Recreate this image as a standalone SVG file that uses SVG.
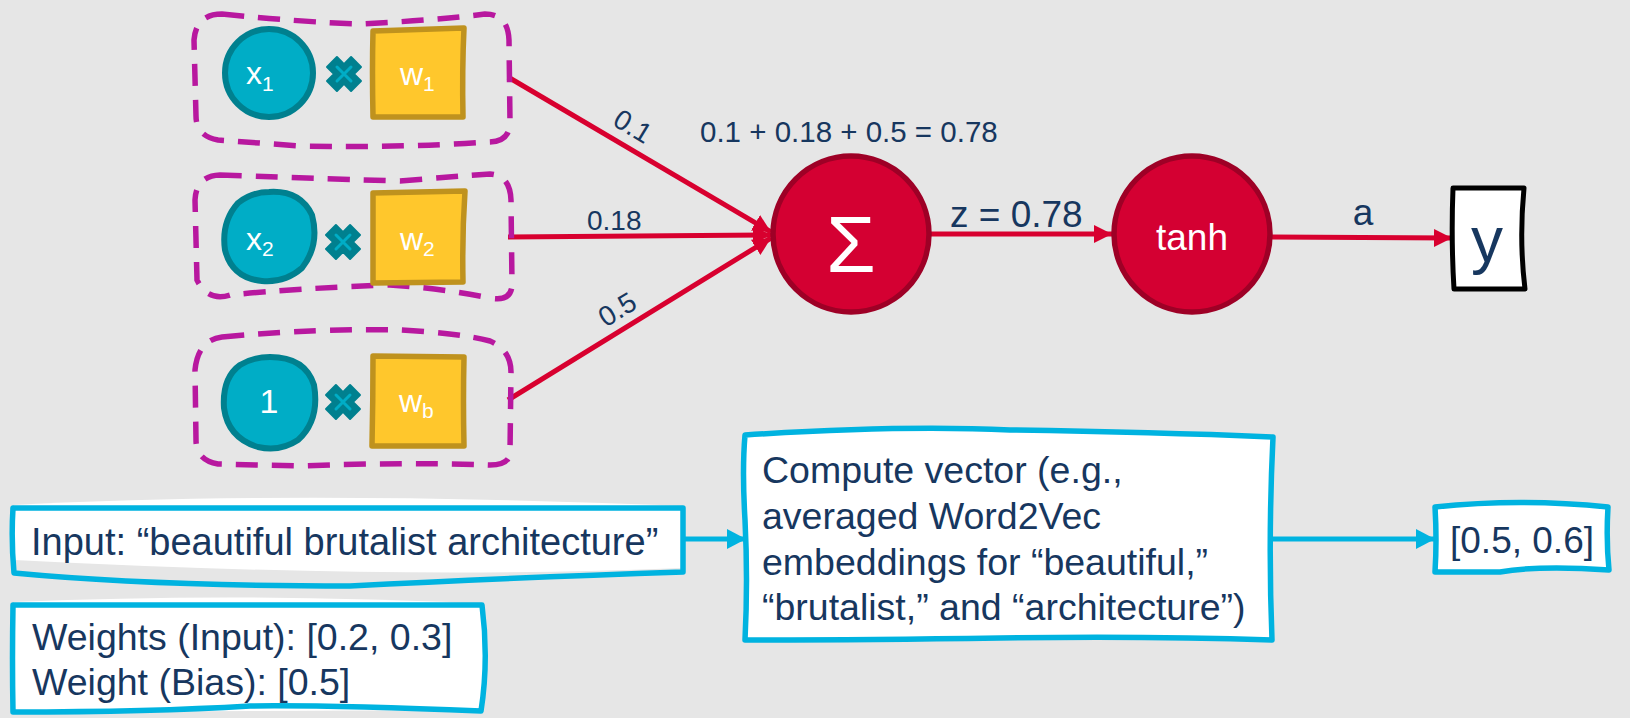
<svg xmlns="http://www.w3.org/2000/svg" width="1630" height="718" viewBox="0 0 1630 718">
<style>
text{font-family:"Liberation Sans",Arial,sans-serif}
.lbl{fill:#17375f}
.wt{fill:#ffffff}
.dash{fill:none;stroke:#b8189f;stroke-width:5.5;stroke-dasharray:22 14;stroke-linecap:butt}
.inp{fill:#00adc6;stroke:#00808f;stroke-width:6}
.wsq{fill:#ffc72c;stroke:#bf921e;stroke-width:5.5;stroke-linejoin:round}
.neu{fill:#d40032;stroke:#9e0026;stroke-width:5.5}
.red{fill:none;stroke:#d8002f;stroke-width:5}
.blu{fill:none;stroke:#00b3e0;stroke-width:5}
.bbox{fill:#ffffff;stroke:#00b3e0;stroke-width:5.5;stroke-linejoin:round}
.wfill{fill:#ffffff}
</style>
<defs>
<marker id="ar" markerUnits="userSpaceOnUse" markerWidth="20" markerHeight="20" refX="18" refY="10" orient="auto">
<path d="M0,1 L18,10 L0,19 z" fill="#d8002f"/>
</marker>
<marker id="ab" markerUnits="userSpaceOnUse" markerWidth="20" markerHeight="22" refX="19" refY="11" orient="auto">
<path d="M0,1 L19,11 L0,21 z" fill="#00b3e0"/>
</marker>
<g id="cross">
<path d="M-7,-17 L7,-17 L7,-7 L17,-7 L17,7 L7,7 L7,17 L-7,17 L-7,7 L-17,7 L-17,-7 L-7,-7 Z" transform="rotate(45)" fill="#00808f" stroke="#00808f" stroke-width="2" stroke-linejoin="round"/>
<path d="M-7,-7 L7,7 M-7,7 L7,-7" stroke="#00adc6" stroke-width="3" stroke-linecap="round"/>
</g>
</defs>
<rect width="1630" height="718" fill="#e6e6e6"/>

<g id="connectors">
<line class="red" x1="508" y1="77" x2="771" y2="232" marker-end="url(#ar)"/>
<line class="red" x1="508" y1="237" x2="771" y2="235" marker-end="url(#ar)"/>
<line class="red" x1="508" y1="400" x2="771" y2="238" marker-end="url(#ar)"/>
<line class="red" x1="930" y1="234" x2="1112" y2="234" marker-end="url(#ar)"/>
<line class="red" x1="1272" y1="237" x2="1452" y2="238" marker-end="url(#ar)"/>
<line class="blu" x1="683" y1="539" x2="746" y2="539" marker-end="url(#ab)"/>
<line class="blu" x1="1273" y1="539" x2="1435" y2="539" marker-end="url(#ab)"/>
<text class="lbl" font-size="28" text-anchor="middle" transform="translate(633,126) rotate(31)" dy="10">0.1</text>
<text class="lbl" font-size="28" x="587" y="230">0.18</text>
<text class="lbl" font-size="28" text-anchor="middle" transform="translate(617,309) rotate(-31.5)" dy="10">0.5</text>
<text class="lbl" font-size="29.5" x="700" y="142">0.1 + 0.18 + 0.5 = 0.78</text>
<text class="lbl" font-size="37" x="950" y="227">z = 0.78</text>
<text class="lbl" font-size="37" x="1363" y="225" text-anchor="middle">a</text>
</g>

<g id="pair1">
<path class="dash" d="M222,14 Q300,22 360,24 Q440,20 485,14 Q508,14 509,40 L510,122 Q510,142 488,142 Q400,148 300,146 L218,140 Q196,136 196,116 L194,40 Q196,14 222,14 Z"/>
<circle class="inp" cx="269" cy="73" r="44"/>
<text class="wt" font-size="32" x="246" y="84">x<tspan font-size="21" dy="7">1</tspan></text>
<use href="#cross" x="344" y="74"/>
<path class="wsq" d="M373,31 L464,28 Q462,70 463,117 L373,117 Q372,70 373,31 Z"/>
<text class="wt" font-size="32" x="400" y="85">w<tspan font-size="21" dy="6">1</tspan></text>
</g>

<g id="pair2">
<path class="dash" d="M220,175 Q300,178 400,181 Q460,176 490,174 Q510,175 511,200 L512,284 Q512,302 490,298 Q440,288 390,285 Q300,288 230,295 Q208,302 197,280 L195,200 Q196,176 220,175 Z"/>
<path class="inp" d="M269,192 Q300,190 312,215 Q320,245 302,268 Q285,283 262,281 Q232,278 225,250 Q221,222 238,203 Q252,192 269,192 Z"/>
<text class="wt" font-size="32" x="246" y="250">x<tspan font-size="21" dy="6">2</tspan></text>
<use href="#cross" x="343" y="242"/>
<path class="wsq" d="M373,193 L465,191 Q462,236 463,282 L373,283 Q373,238 373,193 Z"/>
<text class="wt" font-size="32" x="400" y="250">w<tspan font-size="21" dy="6">2</tspan></text>
</g>

<g id="pair3">
<path class="dash" d="M222,337 Q320,328 400,330 Q460,333 490,341 Q511,350 511,372 L510,452 Q510,465 490,465 Q400,462 300,466 L218,464 Q196,460 196,440 L195,370 Q198,340 222,337 Z"/>
<path class="inp" d="M270,357 Q305,357 314,385 Q320,420 298,440 Q280,452 258,447 Q228,438 224,408 Q222,378 240,365 Q253,357 270,357 Z"/>
<text class="wt" font-size="34" x="269" y="413" text-anchor="middle">1</text>
<use href="#cross" x="343" y="402"/>
<path class="wsq" d="M373,356 L464,357 Q463,400 464,446 L372,446 Q373,400 373,356 Z"/>
<text class="wt" font-size="32" x="399" y="412">w<tspan font-size="21" dy="6">b</tspan></text>
</g>

<g id="sum">
<circle class="neu" cx="851" cy="234" r="78"/>
<text class="wt" font-size="80" x="851" y="272" text-anchor="middle">Σ</text>
</g>

<g id="tanh">
<circle class="neu" cx="1192" cy="234" r="78"/>
<text class="wt" font-size="37" x="1192" y="250" text-anchor="middle">tanh</text>
</g>

<g id="output">
<path d="M1453,188 L1524,188 Q1519,240 1525,289 L1454,289 Q1451,240 1453,188 Z" fill="#ffffff" stroke="#000000" stroke-width="5" stroke-linejoin="round"/>
<text class="lbl" font-size="64" x="1487" y="262" text-anchor="middle">y</text>
</g>

<g id="input">
<path class="wfill" d="M14,505 Q300,490 683,506 L683,568 Q400,580 14,560 Z"/>
<path class="bbox" style="fill:none" d="M13,508 L683,508 L683,572 Q500,578 350,586 Q150,586 14,573 Q11,540 13,508 Z"/>
<text class="lbl" font-size="38" x="31" y="555">Input: “beautiful brutalist architecture”</text>
</g>

<g id="weights">
<path class="wfill" d="M14,602 Q250,592 483,604 Q488,660 482,710 L14,712 Z"/>
<path class="bbox" style="fill:none" d="M13,605 L482,605 Q489,660 481,711 Q330,705 250,706 Q150,712 13,712 Q12,660 13,605 Z"/>
<text class="lbl" font-size="37.5" x="32" y="650">Weights (Input): [0.2, 0.3]</text>
<text class="lbl" font-size="37.5" x="32" y="695">Weight (Bias): [0.5]</text>
</g>

<g id="compute">
<path class="bbox" d="M745,435 Q900,425 1010,430 Q1150,432 1273,437 Q1268,540 1272,640 Q1150,636 1000,638 Q860,640 745,640 Q748,580 745,520 Q742,470 745,435 Z"/>
<text class="lbl" font-size="37.5">
<tspan x="762" y="483">Compute vector (e.g.,</tspan>
<tspan x="762" y="529">averaged Word2Vec</tspan>
<tspan x="762" y="575">embeddings for “beautiful,”</tspan>
<tspan x="762" y="620">“brutalist,” and “architecture”)</tspan>
</text>
</g>

<g id="vector">
<path class="bbox" d="M1435,507 Q1520,498 1608,507 Q1606,540 1609,570 Q1540,565 1500,572 Q1460,572 1435,572 Q1437,540 1435,507 Z"/>
<text class="lbl" font-size="37" x="1450" y="553">[0.5, 0.6]</text>
</g>
</svg>
